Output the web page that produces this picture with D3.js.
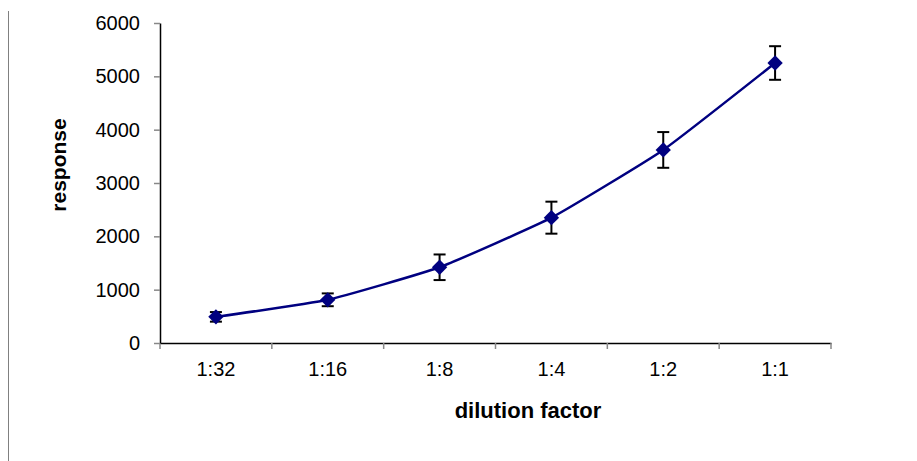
<!DOCTYPE html>
<html>
<head>
<script src="https://cdn.jsdelivr.net/npm/d3@7"></script>
<style>
  body { margin: 0; background: #fff; }
  text { font-family: "Liberation Sans", Arial, sans-serif; }
</style>
</head>
<body>
<script>
  var categories = ["1:32", "1:16", "1:8", "1:4", "1:2", "1:1"];
  var values = [490, 810, 1420, 2350, 3620, 5250];
  var errors = [90, 120, 240, 300, 335, 315];
  var yTicks = [0, 1000, 2000, 3000, 4000, 5000, 6000];

  var w = 917, h = 461;
  var margin = {top: 23, left: 160, right: 86, bottom: 118};

  var svg = d3.select("body").append("svg")
    .attr("width", w)
    .attr("height", h);

  // frame line on the left
  svg.append("line")
    .attr("x1", 8.5).attr("x2", 8.5)
    .attr("y1", 11).attr("y2", h)
    .attr("stroke", "#808080")
    .attr("stroke-width", 1);

  var x = d3.scaleBand()
    .domain(categories)
    .range([margin.left, w - margin.right]);

  var y = d3.scaleLinear()
    .domain([0, 6000])
    .range([h - margin.bottom, margin.top]);

  var xAxis = svg.append("g")
    .attr("transform", "translate(0," + y(0) + ")")
    .call(d3.axisBottom(x).tickSize(0).tickPadding(19));
  xAxis.select(".domain").attr("stroke", "#000").attr("stroke-width", 1.5);
  xAxis.selectAll("text").style("font-size", "20px").attr("fill", "#000");

  // category separators below the axis
  svg.append("g").selectAll("line")
    .data(categories.concat(["end"]))
    .enter().append("line")
    .attr("x1", function (d, i) { return margin.left + i * x.bandwidth(); })
    .attr("x2", function (d, i) { return margin.left + i * x.bandwidth(); })
    .attr("y1", y(0))
    .attr("y2", y(0) + 6)
    .attr("stroke", "#888")
    .attr("stroke-width", 1.5);

  var yAxis = svg.append("g")
    .attr("transform", "translate(" + margin.left + ",0)")
    .call(d3.axisLeft(y).tickValues(yTicks).tickFormat(d3.format("d"))
      .tickSize(6).tickPadding(14).tickSizeOuter(0));
  yAxis.select(".domain").attr("stroke", "#000").attr("stroke-width", 1.5);
  yAxis.selectAll(".tick line").attr("stroke", "#888").attr("stroke-width", 1.5);
  yAxis.selectAll("text").style("font-size", "20px").attr("fill", "#000");

  var cx = function (d, i) { return x(categories[i]) + x.bandwidth() / 2; };

  // error bars
  var eb = svg.append("g").selectAll("g")
    .data(values)
    .enter().append("g")
    .attr("stroke", "#000")
    .attr("stroke-width", 2);
  eb.append("line")
    .attr("x1", cx).attr("x2", cx)
    .attr("y1", function (d, i) { return y(d + errors[i]); })
    .attr("y2", function (d, i) { return y(d - errors[i]); });
  eb.append("line")
    .attr("x1", function (d, i) { return cx(d, i) - 6; })
    .attr("x2", function (d, i) { return cx(d, i) + 6; })
    .attr("y1", function (d, i) { return y(d + errors[i]); })
    .attr("y2", function (d, i) { return y(d + errors[i]); });
  eb.append("line")
    .attr("x1", function (d, i) { return cx(d, i) - 6; })
    .attr("x2", function (d, i) { return cx(d, i) + 6; })
    .attr("y1", function (d, i) { return y(d - errors[i]); })
    .attr("y2", function (d, i) { return y(d - errors[i]); });

  var line = d3.line()
    .x(function (d, i) { return cx(d, i); })
    .y(function (d) { return y(d); })
    .curve(d3.curveCardinal.tension(0.6));

  svg.append("path")
    .datum(values)
    .attr("fill", "none")
    .attr("stroke", "#000080")
    .attr("stroke-width", 2.5)
    .attr("d", line);

  svg.append("g").selectAll("path")
    .data(values)
    .enter().append("path")
    .attr("d", d3.symbol().type(d3.symbolDiamond2).size(150))
    .attr("transform", function (d, i) { return "translate(" + cx(d, i) + "," + y(d) + ")"; })
    .attr("fill", "#000080");

  svg.append("text")
    .attr("x", 528)
    .attr("y", 418)
    .attr("text-anchor", "middle")
    .style("font-size", "22px")
    .attr("font-weight", "bold")
    .text("dilution factor");

  svg.append("text")
    .attr("transform", "translate(66,165) rotate(-90)")
    .attr("text-anchor", "middle")
    .style("font-size", "21px")
    .attr("font-weight", "bold")
    .text("response");
</script>
</body>
</html>
